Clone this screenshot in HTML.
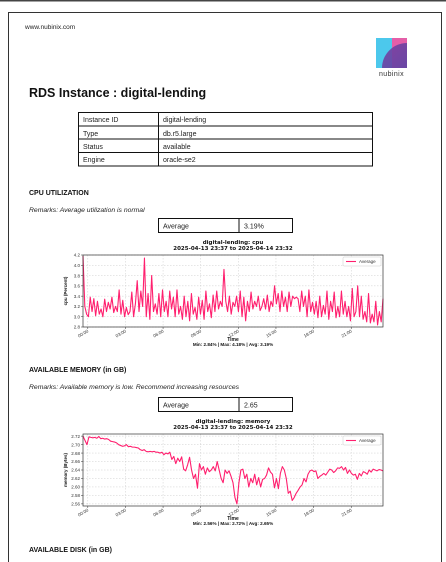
<!DOCTYPE html>
<html><head><meta charset="utf-8"><style>
html,body{margin:0;padding:0;background:#fff;width:446px;height:562px;overflow:hidden}
svg{display:block;font-family:"Liberation Sans",sans-serif}
</style></head><body>
<svg id="page" width="446" height="562" viewBox="0 0 446 562">
<defs>
<linearGradient id="lg" x1="0" y1="0" x2="1" y2="1"><stop offset="0" stop-color="#7b3fa0"/><stop offset="1" stop-color="#3a4aa8"/></linearGradient>
<clipPath id="lc"><rect x="376" y="38" width="31" height="30"/></clipPath>
</defs>
<rect x="0" y="0" width="446" height="1.5" fill="#444"/>
<rect x="8.5" y="12.5" width="433" height="560" fill="none" stroke="#333" stroke-width="1"/>
<text x="25" y="29" font-size="6.5" fill="#222">www.nubinix.com</text>
<g clip-path="url(#lc)">
<rect x="376" y="38" width="16" height="30" fill="#4cc8ec"/>
<rect x="392" y="38" width="15" height="30" fill="#e45ea8"/>
<circle cx="407" cy="68" r="25" fill="url(#lg)" opacity="0.9"/>
</g>
<text x="391.5" y="76" font-size="7" text-anchor="middle" fill="#333" letter-spacing="0.4">nubinix</text>
<text x="29" y="97" font-size="12.5" font-weight="bold" fill="#111">RDS Instance : digital-lending</text>
<g font-size="7" fill="#222">
<rect x="78.5" y="112.5" width="294" height="53.5" fill="none" stroke="#111" stroke-width="1"/>
<line x1="158.5" y1="112.5" x2="158.5" y2="166" stroke="#111"/>
<line x1="78.5" y1="126" x2="372.5" y2="126" stroke="#111"/>
<line x1="78.5" y1="139" x2="372.5" y2="139" stroke="#111"/>
<line x1="78.5" y1="152.5" x2="372.5" y2="152.5" stroke="#111"/>
<text x="83" y="122">Instance ID</text><text x="163" y="122">digital-lending</text>
<text x="83" y="136">Type</text><text x="163" y="136">db.r5.large</text>
<text x="83" y="149">Status</text><text x="163" y="149">available</text>
<text x="83" y="162">Engine</text><text x="163" y="162">oracle-se2</text>
</g>
<text x="29" y="195" font-size="7" font-weight="bold" fill="#111">CPU UTILIZATION</text>
<text x="29" y="212" font-size="6.8" font-style="italic" fill="#222">Remarks: Average utilization is normal</text>
<g font-size="7" fill="#222">
<rect x="158.5" y="218.5" width="134" height="14" fill="none" stroke="#111"/>
<line x1="239" y1="218.5" x2="239" y2="232.5" stroke="#111"/>
<text x="163" y="228.5">Average</text><text x="244" y="228.5">3.19%</text>
</g>
<g id="cpuChart"></g>
<text x="29" y="372" font-size="7" font-weight="bold" fill="#111">AVAILABLE MEMORY (in GB)</text>
<text x="29" y="389" font-size="6.8" font-style="italic" fill="#222">Remarks: Available memory is low. Recommend increasing resources</text>
<g font-size="7" fill="#222">
<rect x="158.5" y="397.5" width="134" height="14" fill="none" stroke="#111"/>
<line x1="239" y1="397.5" x2="239" y2="411.5" stroke="#111"/>
<text x="163" y="407.5">Average</text><text x="244" y="407.5">2.65</text>
</g>
<g id="memChart"></g>
<text x="29" y="552" font-size="7" font-weight="bold" fill="#111">AVAILABLE DISK (in GB)</text>
</svg>
<script>
const timeTicks = ["00:00","03:00","06:00","09:00","12:00","15:00","18:00","21:00"];
const tickHours = [0,3,6,9,12,15,18,21];
const cpuTicks = [2.8,3.0,3.2,3.4,3.6,3.8,4.0,4.2];
const memTicks = [2.56,2.58,2.60,2.62,2.64,2.66,2.68,2.70,2.72];
const cpuValues = [4.18,3.2,3.05,3.0,3.38,3.1,3.35,3.02,3.3,3.05,3.15,3.0,3.34,3.1,3.28,3.15,3.38,3.08,3.2,3.1,3.52,3.05,3.32,3.0,3.18,3.04,3.1,3.48,3.0,3.25,3.7,3.1,3.5,3.2,4.14,3.0,3.45,2.95,3.8,3.1,3.25,3.05,3.45,3.0,3.52,3.1,3.3,3.0,3.5,3.15,3.38,3.0,3.52,3.05,3.2,2.95,3.4,3.0,3.3,2.92,3.45,3.05,3.18,2.95,3.38,3.05,3.32,2.95,3.5,3.1,3.25,2.98,3.42,3.1,3.5,3.15,3.3,3.2,3.92,3.3,3.1,3.4,3.05,3.28,3.2,3.4,3.1,3.5,3.0,3.38,2.92,3.3,3.1,3.48,3.15,3.3,3.2,3.4,3.12,3.2,3.35,3.15,3.42,3.1,3.3,3.2,3.6,3.25,3.45,3.1,3.5,3.2,3.38,3.1,3.48,3.2,3.4,3.35,3.38,3.35,3.1,3.5,3.2,3.4,3.0,3.52,3.1,3.28,3.05,3.3,2.98,3.4,3.0,3.22,3.05,3.5,2.95,3.3,3.1,3.48,2.98,3.2,3.0,3.5,3.05,3.3,3.0,3.2,2.92,3.55,3.0,3.1,3.6,3.0,3.4,2.95,3.1,2.9,3.45,2.88,3.05,2.9,3.3,2.84,3.1,2.9,3.35];
const memValues = [2.72,2.71,2.70,2.718,2.717,2.716,2.717,2.715,2.719,2.714,2.715,2.713,2.714,2.712,2.708,2.707,2.706,2.704,2.70,2.698,2.696,2.697,2.700,2.695,2.696,2.694,2.694,2.693,2.692,2.688,2.686,2.688,2.684,2.683,2.684,2.683,2.684,2.682,2.682,2.68,2.682,2.676,2.68,2.678,2.682,2.665,2.672,2.655,2.668,2.66,2.671,2.642,2.638,2.652,2.67,2.64,2.62,2.63,2.597,2.655,2.64,2.648,2.63,2.645,2.636,2.64,2.648,2.638,2.66,2.64,2.62,2.61,2.64,2.632,2.638,2.625,2.61,2.575,2.56,2.61,2.64,2.642,2.62,2.63,2.60,2.62,2.61,2.63,2.605,2.622,2.60,2.618,2.62,2.628,2.645,2.635,2.63,2.598,2.62,2.596,2.632,2.648,2.64,2.62,2.585,2.59,2.568,2.575,2.585,2.592,2.60,2.605,2.62,2.612,2.63,2.638,2.64,2.636,2.638,2.62,2.625,2.628,2.632,2.628,2.635,2.642,2.64,2.634,2.638,2.645,2.644,2.648,2.64,2.646,2.632,2.64,2.632,2.628,2.63,2.618,2.632,2.626,2.636,2.634,2.63,2.64,2.635,2.642,2.64,2.638,2.641,2.64,2.638];
const NS="http://www.w3.org/2000/svg";
function mk(parent,tag,attrs,text){const e=document.createElementNS(NS,tag);for(const k in attrs)e.setAttribute(k,attrs[k]);if(text!==undefined)e.textContent=text;parent.appendChild(e);return e;}
function drawChart(g,cfg){
  const L=83,R=383,T=cfg.top,B=cfg.top+72;
  const h0=-23/60, h1=23+32/60;
  const xs=h=>L+(h-h0)/(h1-h0)*(R-L);
  const ys=v=>B-(v-cfg.ymin)/(cfg.ymax-cfg.ymin)*(B-T);
  const t1=mk(g,'text',{x:233,y:T-11,'font-size':5.5,'font-weight':'bold','text-anchor':'middle',fill:'#111','font-family':'DejaVu Sans, sans-serif'},cfg.title);
  
  
  const t2=mk(g,'text',{x:233,y:T-5,'font-size':5.5,'font-weight':'bold','text-anchor':'middle',fill:'#111','font-family':'DejaVu Sans, sans-serif'},'2025-04-13 23:37 to 2025-04-14 23:32');
  
  
  cfg.ticks.forEach(v=>{const y=ys(v);
    mk(g,'line',{x1:L,x2:R,y1:y,y2:y,stroke:'#ccc','stroke-width':0.5,'stroke-dasharray':'1.5,1.5'});
    mk(g,'line',{x1:L-2,x2:L,y1:y,y2:y,stroke:'#333','stroke-width':0.5});
    const tl=mk(g,'text',{x:L-3,y:y+1.7,'font-size':4.5,'text-anchor':'end',fill:'#333'},v.toFixed(cfg.dec));
    
    
  });
  tickHours.forEach((h,i)=>{const x=xs(h);
    mk(g,'line',{x1:x,x2:x,y1:T,y2:B,stroke:'#ccc','stroke-width':0.5,'stroke-dasharray':'1.5,1.5'});
    mk(g,'line',{x1:x,x2:x,y1:B,y2:B+2,stroke:'#333','stroke-width':0.5});
    const tl=mk(g,'text',{x:x+1,y:B+5,'font-size':4.5,'text-anchor':'end',fill:'#333',transform:`rotate(-30 ${x+1} ${B+5})`},timeTicks[i]);
    
    
  });
  const n=cfg.values.length;
  const pts=cfg.values.map((v,i)=>xs(h0+i*(h1-h0)/(n-1)).toFixed(2)+','+ys(v).toFixed(2)).join(' ');
  const line=mk(g,'polyline',{points:pts,fill:'none',stroke:'#ff1f6e','stroke-width':1.1,'stroke-linejoin':'round'});
  
  
  const frame=mk(g,'rect',{x:L,y:T,width:R-L,height:B-T,fill:'none',stroke:'#333','stroke-width':0.7});
  
  
  const lg=mk(g,'g',{});
  
  
  mk(lg,'rect',{x:343,y:T+2,width:38,height:9,fill:'#fff',stroke:'#ccc','stroke-width':0.5,rx:1});
  mk(lg,'line',{x1:346,x2:356,y1:T+6.5,y2:T+6.5,stroke:'#ff1f6e','stroke-width':1.1});
  mk(lg,'text',{x:359,y:T+8.2,'font-size':4.5,fill:'#333'},'Average');
  const yl=mk(g,'text',{x:L-16,y:(T+B)/2,'font-size':4.5,'font-weight':'bold','text-anchor':'middle',fill:'#111',transform:`rotate(-90 ${L-16} ${(T+B)/2})`},cfg.ylabel);
  
  
  const xl=mk(g,'text',{x:233,y:B+14,'font-size':5,'font-weight':'bold','text-anchor':'middle',fill:'#111'},'Time');
  
  
  const st=mk(g,'text',{x:233,y:B+19,'font-size':4.6,'font-weight':'bold','text-anchor':'middle',fill:'#111'},cfg.stats);
  
  
}
drawChart(document.getElementById('cpuChart'),{top:255,ymin:2.8,ymax:4.2,ticks:cpuTicks,dec:1,values:cpuValues,title:'digital-lending: cpu',ylabel:'cpu (Percent)',stats:'Min: 2.84% | Max: 4.18% | Avg: 3.19%'});
drawChart(document.getElementById('memChart'),{top:434,ymin:2.555,ymax:2.725,ticks:memTicks,dec:2,values:memValues,title:'digital-lending: memory',ylabel:'memory (Bytes)',stats:'Min: 2.56% | Max: 2.72% | Avg: 2.65%'});
</script>
</body></html>
